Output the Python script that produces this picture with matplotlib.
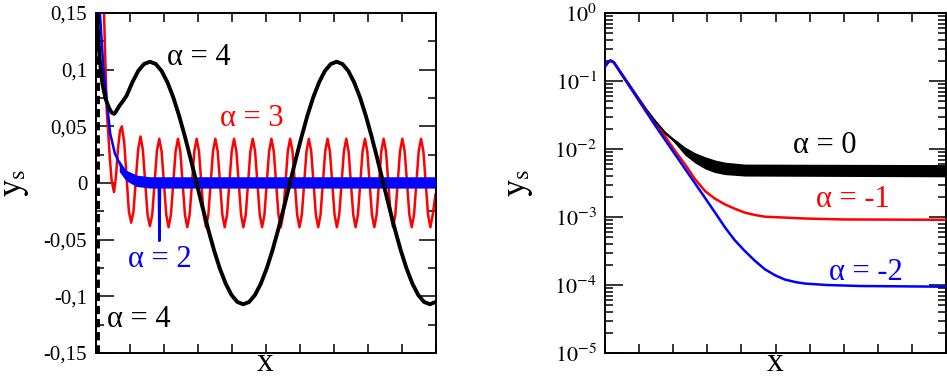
import matplotlib
matplotlib.use("Agg")
import matplotlib.pyplot as plt
from matplotlib.ticker import MultipleLocator, FixedLocator, FixedFormatter, LogLocator, NullFormatter

plt.rcParams['font.family'] = ['Liberation Serif', 'DejaVu Serif']
plt.rcParams['mathtext.fontset'] = 'stix'

# ---- left panel data ----
# alpha = 4 (black)
black_x = [0.03, 0.06, 0.12, 0.20, 0.30, 0.40, 0.48, 0.55, 0.60, 0.70, 0.80, 0.914,
           1.085, 1.257, 1.428,
           1.600, 1.772, 1.943, 2.115, 2.286, 2.458, 2.630, 2.801,
           2.973, 3.144, 3.316, 3.488, 3.659, 3.831, 4.002, 4.174,
           4.346, 4.517, 4.689, 4.861, 5.032, 5.204, 5.375, 5.547,
           5.719, 5.890, 6.062, 6.233, 6.405, 6.577, 6.748, 6.920,
           7.091, 7.263, 7.435, 7.606, 7.778, 7.949, 8.121, 8.293,
           8.464, 8.636, 8.807, 8.979, 9.151, 9.322, 9.494, 9.665,
           9.837, 10.0]
black_y = [0.16, 0.14, 0.11, 0.088, 0.074, 0.066, 0.062, 0.061, 0.063, 0.068, 0.072, 0.077,
           0.0889, 0.0989, 0.105,
           0.107, 0.105, 0.0989, 0.0889, 0.0757, 0.0595, 0.0410, 0.0209,
           0.0, -0.0209, -0.0410, -0.0595, -0.0757, -0.0889, -0.0989, -0.105,
           -0.107, -0.105, -0.0989, -0.0889, -0.0757, -0.0595, -0.0410, -0.0209,
           0.0, 0.0209, 0.0410, 0.0595, 0.0757, 0.0889, 0.0989, 0.105,
           0.107, 0.105, 0.0989, 0.0889, 0.0757, 0.0595, 0.0410, 0.0209,
           0.0, -0.0209, -0.0410, -0.0595, -0.0757, -0.0889, -0.0989, -0.105,
           -0.107, -0.105]
dash_x = [0.05, 0.05]
dash_y = [-0.15, 0.15]

# alpha = 3 (red)
red_x = [0.22, 0.25, 0.33, 0.376, 0.426, 0.476, 0.544, 0.60, 0.66, 0.72,
         0.775, 0.844, 0.913, 0.981, 1.050, 1.119, 1.188, 1.256,
         1.325, 1.394, 1.463, 1.531, 1.600, 1.669, 1.738, 1.806,
         1.875, 1.944, 2.013, 2.081, 2.150, 2.219, 2.288, 2.356,
         2.425, 2.494, 2.563, 2.631, 2.700, 2.769, 2.838, 2.906,
         2.975, 3.044, 3.113, 3.181, 3.250, 3.319, 3.388, 3.456,
         3.525, 3.594, 3.663, 3.731, 3.800, 3.869, 3.938, 4.006,
         4.075, 4.144, 4.213, 4.281, 4.350, 4.419, 4.488, 4.556,
         4.625, 4.694, 4.763, 4.831, 4.900, 4.969, 5.038, 5.106,
         5.175, 5.244, 5.313, 5.381, 5.450, 5.519, 5.588, 5.656,
         5.725, 5.794, 5.863, 5.931, 6.000, 6.069, 6.138, 6.206,
         6.275, 6.344, 6.413, 6.481, 6.550, 6.619, 6.688, 6.756,
         6.825, 6.894, 6.963, 7.031, 7.100, 7.169, 7.238, 7.306,
         7.375, 7.444, 7.513, 7.581, 7.650, 7.719, 7.788, 7.856,
         7.925, 7.994, 8.063, 8.131, 8.200, 8.269, 8.338, 8.406,
         8.475, 8.544, 8.613, 8.681, 8.750, 8.819, 8.888, 8.956,
         9.025, 9.094, 9.163, 9.231, 9.300, 9.369, 9.438, 9.506,
         9.575, 9.644, 9.713, 9.781, 9.850, 9.919, 10.0]
red_y = [0.20, 0.15, 0.064, 0.044, 0.020, 0.002, -0.008, 0.005, 0.030, 0.046,
         0.050, 0.036, 0.006, -0.025, -0.035, -0.025, 0.004, 0.030,
         0.041, 0.029, 0.0, -0.028, -0.038, -0.028, 0.0, 0.028,
         0.039, 0.028, 0.0, -0.028, -0.039, -0.028, 0.0, 0.028,
         0.039, 0.028, 0.0, -0.028, -0.039, -0.028, 0.0, 0.028,
         0.039, 0.028, 0.0, -0.028, -0.039, -0.028, 0.0, 0.028,
         0.039, 0.028, 0.0, -0.028, -0.039, -0.028, 0.0, 0.028,
         0.039, 0.028, 0.0, -0.028, -0.039, -0.028, 0.0, 0.028,
         0.039, 0.028, 0.0, -0.028, -0.039, -0.028, 0.0, 0.028,
         0.039, 0.028, 0.0, -0.028, -0.039, -0.028, 0.0, 0.028,
         0.039, 0.028, 0.0, -0.028, -0.039, -0.028, 0.0, 0.028,
         0.039, 0.028, 0.0, -0.028, -0.039, -0.028, 0.0, 0.028,
         0.039, 0.028, 0.0, -0.028, -0.039, -0.028, 0.0, 0.028,
         0.039, 0.028, 0.0, -0.028, -0.039, -0.028, 0.0, 0.028,
         0.039, 0.028, 0.0, -0.028, -0.039, -0.028, 0.0, 0.028,
         0.039, 0.028, 0.0, -0.028, -0.039, -0.028, 0.0, 0.028,
         0.039, 0.028, 0.0, -0.028, -0.039, -0.028, 0.0, 0.028,
         0.039, 0.028, 0.0, -0.028, -0.039, -0.028, -0.010]

# alpha = 2 (blue)
blue_x = [0.08, 0.13, 0.23, 0.33, 0.43, 0.57, 0.81, 1.31, 1.86, 1.88, 1.90, 10.0]
blue_y = [0.20, 0.15, 0.1026, 0.073, 0.044, 0.026, 0.011, 0.004, 0.002, -0.051, 0.002, 0.001]
band_x = [0.70, 0.90, 1.20, 1.60, 10.0]
band_lo = [0.010, 0.002, -0.003, -0.0045, -0.0045]
band_hi = [0.020, 0.011, 0.007, 0.0055, 0.0055]

left_ticks = [-0.15, -0.1, -0.05, 0, 0.05, 0.1, 0.15]
left_labels = ['-0,15', '-0,1', '-0,05', '0', '0,05', '0,1', '0,15']

# ---- right panel data ----
r_black_x = [0, 0.07, 0.15, 0.25, 1.2, 1.46, 1.75, 2.05, 2.34, 2.64, 2.93, 3.22, 3.52, 4.10, 5.87, 10.0]
r_black_y = [0.166, 0.185, 0.200, 0.188, 0.0380, 0.0257, 0.0174, 0.0129, 0.0093, 0.0074,
             0.0063, 0.0056, 0.0052, 0.0049, 0.0048, 0.0048]
r_band_x = [1.9, 2.05, 2.34, 2.64, 2.93, 3.22, 3.52, 4.10, 10.0]
r_band_lo = [0.0146, 0.0120, 0.0081, 0.0062, 0.0051, 0.0045, 0.0042, 0.0040, 0.0039]
r_band_hi = [0.0154, 0.0139, 0.0107, 0.0088, 0.0077, 0.0069, 0.0064, 0.0060, 0.0059]

r_red_x = [0, 0.07, 0.15, 0.25, 1.2, 1.46, 1.75, 2.05, 2.34, 2.64, 2.93, 3.22, 3.52, 3.81,
           4.10, 4.40, 4.69, 5.28, 5.87, 7.0, 10.0]
r_red_y = [0.166, 0.185, 0.200, 0.188, 0.0363, 0.0229, 0.0155, 0.00935, 0.00596, 0.00358,
           0.00241, 0.00186, 0.00153, 0.00132, 0.00116, 0.00107, 0.00101, 0.00098, 0.00095,
           0.00092, 0.00091]

r_blue_x = [0, 0.07, 0.15, 0.25, 1.5, 2.93, 3.22, 3.52, 3.80, 4.10, 4.40, 4.69, 5.00,
            5.28, 5.60, 5.87, 6.5, 7.5, 10.0]
r_blue_y = [0.166, 0.185, 0.200, 0.188, 0.0209, 0.00191, 0.00117, 0.00070, 0.000457,
            0.000316, 0.000226, 0.000170, 0.000138, 0.000120, 0.000110, 0.000105,
            0.000100, 0.0000966, 0.0000944]

right_ticks = [1e-5, 1e-4, 1e-3, 1e-2, 1e-1, 1e0]
right_labels = [r'$10^{-5}$', r'$10^{-4}$', r'$10^{-3}$', r'$10^{-2}$', r'$10^{-1}$', r'$10^{0}$']

W, H = 947, 378
fig = plt.figure(figsize=(W / 100, H / 100), dpi=100)
ax1 = fig.add_axes([95.5 / W, 1 - 353 / H, 340 / W, 340 / H])
ax2 = fig.add_axes([605.3 / W, 1 - 353 / H, 340.4 / W, 340 / H])

lab = 22

# left
ax1.plot(red_x, red_y, color='red', lw=1.8, zorder=2)
ax1.fill_between(band_x, band_lo, band_hi, color='blue', lw=0, zorder=3)
ax1.plot(blue_x, blue_y, color='blue', lw=1.8, zorder=3)
ax1.plot(black_x, black_y, color='black', lw=2.8, zorder=4)
ax1.plot(dash_x, dash_y, color='black', lw=3.5, dashes=(1.7, 1.0), zorder=4)
ax1.set_xlim(0, 10)
ax1.set_ylim(-0.15, 0.15)
ax1.yaxis.set_major_locator(FixedLocator(left_ticks))
ax1.yaxis.set_major_formatter(FixedFormatter(left_labels))
ax1.yaxis.set_minor_locator(MultipleLocator(0.025))
ax1.text(2.10, 0.1037, 'α = 4', color='black', fontsize=lab)
ax1.text(3.66, 0.0503, 'α = 3', color='red', fontsize=lab)
ax1.text(0.96, -0.0744, 'α = 2', color='blue', fontsize=lab)
ax1.text(0.34, -0.1268, 'α = 4', color='black', fontsize=lab)

# right
ax2.fill_between(r_band_x, r_band_lo, r_band_hi, color='black', lw=0, zorder=2)
ax2.plot(r_black_x, r_black_y, color='black', lw=1.8, zorder=2)
ax2.plot(r_red_x, r_red_y, color='red', lw=1.8, zorder=3)
ax2.plot(r_blue_x, r_blue_y, color='blue', lw=1.8, zorder=4)
ax2.set_yscale('log')
ax2.set_xlim(0, 10)
ax2.set_ylim(1e-5, 1)
ax2.yaxis.set_major_locator(FixedLocator(right_ticks))
ax2.yaxis.set_major_formatter(FixedFormatter(right_labels))
ax2.yaxis.set_minor_locator(LogLocator(base=10, subs=[2, 3, 4, 5, 6, 7, 8, 9], numticks=20))
ax2.yaxis.set_minor_formatter(NullFormatter())
ax2.text(5.51, 8.65e-3, 'α = 0', color='black', fontsize=lab)
ax2.text(6.19, 1.41e-3, 'α = -1', color='red', fontsize=lab)
ax2.text(6.58, 1.18e-4, 'α = -2', color='blue', fontsize=lab)

for ax, lx, ls in [(ax1, -0.19, 15), (ax2, -0.207, 16)]:
    ax.xaxis.set_major_locator(MultipleLocator(1))
    ax.set_xticklabels([])
    ax.tick_params(axis='x', which='major', direction='in', top=True, bottom=True,
                   length=6.5, width=1.1)
    ax.tick_params(axis='y', which='major', direction='in', left=True, right=True,
                   length=12.6, width=1.1, labelsize=ls, pad=6)
    ax.tick_params(axis='y', which='minor', direction='in', left=True, right=True,
                   length=5.8, width=1.1)
    for s in ax.spines.values():
        s.set_linewidth(1.4)
    ax.set_xlabel('x', fontsize=24, va='bottom')
    ax.xaxis.set_label_coords(0.5, -25 / 340)
    ax.set_ylabel(r'$\mathrm{y}_{\mathrm{s}}$', fontsize=25)
    ax.yaxis.set_label_coords(lx, 0.5)

fig.savefig('out.png', dpi=100)
